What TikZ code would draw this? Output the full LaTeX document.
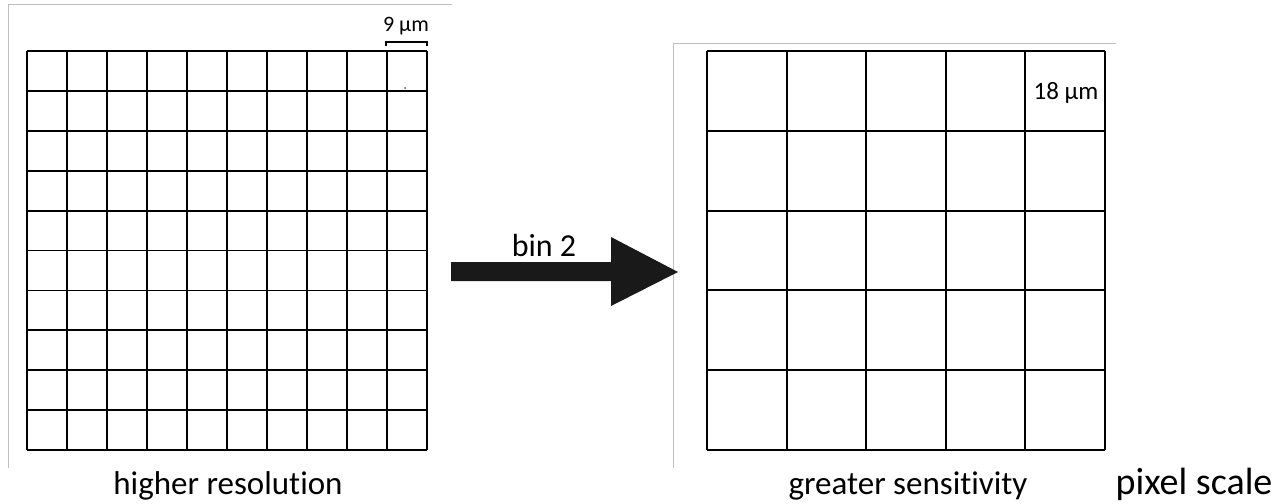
\documentclass[tikz,border=0pt]{standalone}
\usepackage{fontspec}
\setmainfont{Carlito}[Ligatures=NoCommon]
\begin{document}
\begin{tikzpicture}[x=1pt,y=-1pt,
  frameline/.style={draw=black!25,line width=1pt},
  gridline/.style={draw=black,line width=2pt},
  cellbox/.style={draw=none,inner sep=0pt,outer sep=0pt},
  lbl/.style={inner sep=0pt,anchor=base,font=\fontsize{28}{30}\selectfont},
  arrowfill/.style={fill=black!90,draw=none}]
\useasboundingbox (0,0) rectangle (1281,503);
% panel frames
\draw[frameline] (8,468) -- (8,4.5) -- (452,4.5);
\draw[frameline] (673,468) -- (673,43.5) -- (1116,43.5);
% left grid
\node[cellbox,minimum width=400pt,minimum height=399pt] (lgrid) at (227,250.5) {};
\foreach \i in {0,...,10}{
  \draw[gridline,line width=1.8pt] (27+40*\i,51) -- (27+40*\i,450);
  \draw[gridline,line width=1.8pt] (27,51+39.9*\i) -- (427,51+39.9*\i);
}
% right grid
\node[cellbox,minimum width=398pt,minimum height=399pt] (rgrid) at (906,250.5) {};
\foreach \i in {0,...,5}{
  \draw[gridline] (707+79.6*\i,51) -- (707+79.6*\i,450);
  \draw[gridline] (707,51+79.8*\i) -- (1105,51+79.8*\i);
}
% scale bar
\coordinate (sbl) at (386,42);
\coordinate (sbr) at (427,42);
\draw[line width=1.8pt] ([yshift=-4pt]sbl) -- (sbl) -- (sbr) -- ([yshift=-4pt]sbr);
\node[lbl,font=\fontsize{22}{23}\selectfont] (nine) at (406,32) {9 µm};
\fill[black!70] (405,88) circle (1pt);
\node[lbl,font=\fontsize{25}{26}\selectfont] (eighteen) at (1066,99) {18 µm};
% arrow
\fill[arrowfill] (451,262) -- (611,262) -- (611,237) -- (678,272) -- (611,306) -- (611,281) -- (451,281) -- cycle;
\node[lbl,font=\fontsize{32}{34}\selectfont] (bin) at (544,256) {bin 2};
% labels
\node[lbl,font=\fontsize{33}{35}\selectfont] (hr) at (228,494) {higher resolution};
\node[lbl,font=\fontsize{33}{35}\selectfont] (gs) at (908,494) {greater sensitivity};
\node[lbl,font=\fontsize{38}{40}\selectfont] (ps) at (1194,494) {pixel scale};
\end{tikzpicture}
\end{document}
